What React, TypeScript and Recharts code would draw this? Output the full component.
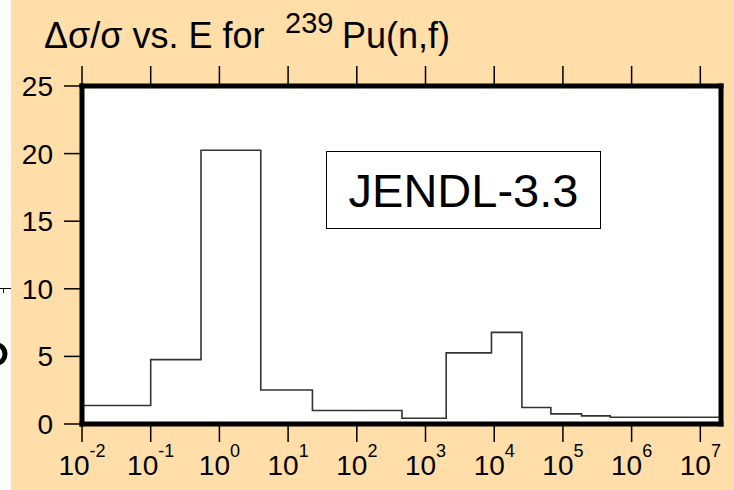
import React from 'react';
import { LineChart, Line, XAxis, YAxis, CartesianGrid } from 'recharts';

// bin lower edges (eV) and relative uncertainty (%)
const EDGES = [0.01, 0.1, 0.54, 4, 22.6, 454, 2000, 9120, 25300, 66800, 186700, 488000, 2e7];
const UNCERT = [1.37, 4.76, 20.25, 2.52, 1.0, 0.43, 5.26, 6.78, 1.22, 0.75, 0.6, 0.5, 0.5];

const X_TICKS = [0.01, 0.1, 1, 10, 100, 1e3, 1e4, 1e5, 1e6, 1e7];
const Y_TICKS = [0, 5, 10, 15, 20, 25];

const data = EDGES.map((e, i) => ({ e, v: UNCERT[i] }));

const FONT = '"Liberation Sans", Arial, sans-serif';
const BG = '#FFDEA9';

const XTick = (props: any) => {
  const { x, y, payload } = props;
  const exp = Math.round(Math.log10(payload.value));
  return (
    <text x={x} y={y + 31} textAnchor="middle" fontFamily={FONT} fontSize={28} fill="#000">
      <tspan>10</tspan>
      <tspan fontSize={18} dy={-18}>{exp}</tspan>
    </text>
  );
};

const YTick = (props: any) => {
  const { x, y, payload } = props;
  return (
    <text x={x - 9} y={y + 10} textAnchor="end" fontFamily={FONT} fontSize={28} fill="#000">
      {payload.value}
    </text>
  );
};

const NoLabel = () => <g />;

const frame = { stroke: '#000', strokeWidth: 5, strokeLinecap: 'square' as const };
const tickLine = { stroke: '#000', strokeWidth: 1.5 };

export default function App() {
  return (
    <div style={{ position: 'absolute', left: 0, top: 0, width: 734, height: 490, background: BG, overflow: 'hidden', fontFamily: FONT }}>
      {/* title + leftover strip from the slide at the left edge */}
      <svg width={734} height={80} style={{ position: 'absolute', left: 0, top: 0 }}>
        <rect x={0} y={0} width={11} height={80} fill="#FBFBFB" />
        <text x={44} y={48} fontFamily={FONT} fontSize={36} fill="#000">
          Δσ/σ vs. E for
          <tspan x={285} y={33} fontSize={29}>239</tspan>
          <tspan x={342} y={48}>Pu(n,f)</tspan>
        </text>
      </svg>
      <svg width={11} height={410} style={{ position: 'absolute', left: 0, top: 80 }}>
        <rect x={0} y={0} width={11} height={410} fill="#FBFBFB" />
        <line x1={0} y1={208.5} x2={11} y2={208.5} stroke="#000" strokeWidth={1} />
        <line x1={3.5} y1={208} x2={3.5} y2={213} stroke="#000" strokeWidth={1} />
        <ellipse cx={-3} cy={274} rx={8} ry={9} fill="none" stroke="#000" strokeWidth={5} />
      </svg>

      <LineChart width={734} height={490} data={data} margin={{ top: 0, right: 0, bottom: 0, left: 0 }} style={{ position: 'absolute', left: 0, top: 0 }}>
        <CartesianGrid fill="#fff" horizontal={false} vertical={false} stroke="none" xAxisId="b" yAxisId="l" />
        <XAxis xAxisId="b" dataKey="e" type="number" scale="log" domain={[0.01, 2e7]} allowDataOverflow
          ticks={X_TICKS} interval={0} orientation="bottom" height={66}
          axisLine={frame} tickLine={tickLine} tickSize={18} tick={XTick} />
        <XAxis xAxisId="t" dataKey="e" type="number" scale="log" domain={[0.01, 2e7]} allowDataOverflow
          ticks={X_TICKS} interval={0} orientation="top" height={86}
          axisLine={frame} tickLine={tickLine} tickSize={20} tick={NoLabel} />
        <YAxis yAxisId="l" type="number" domain={[0, 25]} ticks={Y_TICKS} interval={0} width={82}
          axisLine={frame} tickLine={tickLine} tickSize={18} tick={YTick} />
        <YAxis yAxisId="r" type="number" domain={[0, 25]} ticks={Y_TICKS} interval={0} width={13} orientation="right"
          axisLine={frame} tickLine={tickLine} tickSize={13} tick={NoLabel} />
        <Line xAxisId="b" yAxisId="l" type="stepAfter" dataKey="v" stroke="#333" strokeWidth={1.6}
          dot={false} isAnimationActive={false} />
      </LineChart>

      <div style={{ position: 'absolute', left: 326, top: 151, width: 275, height: 78, border: '1.5px solid #000', background: '#fff', boxSizing: 'border-box',
        display: 'flex', alignItems: 'center', justifyContent: 'center', fontSize: 47, color: '#000' }}>
        JENDL-3.3
      </div>
    </div>
  );
}
